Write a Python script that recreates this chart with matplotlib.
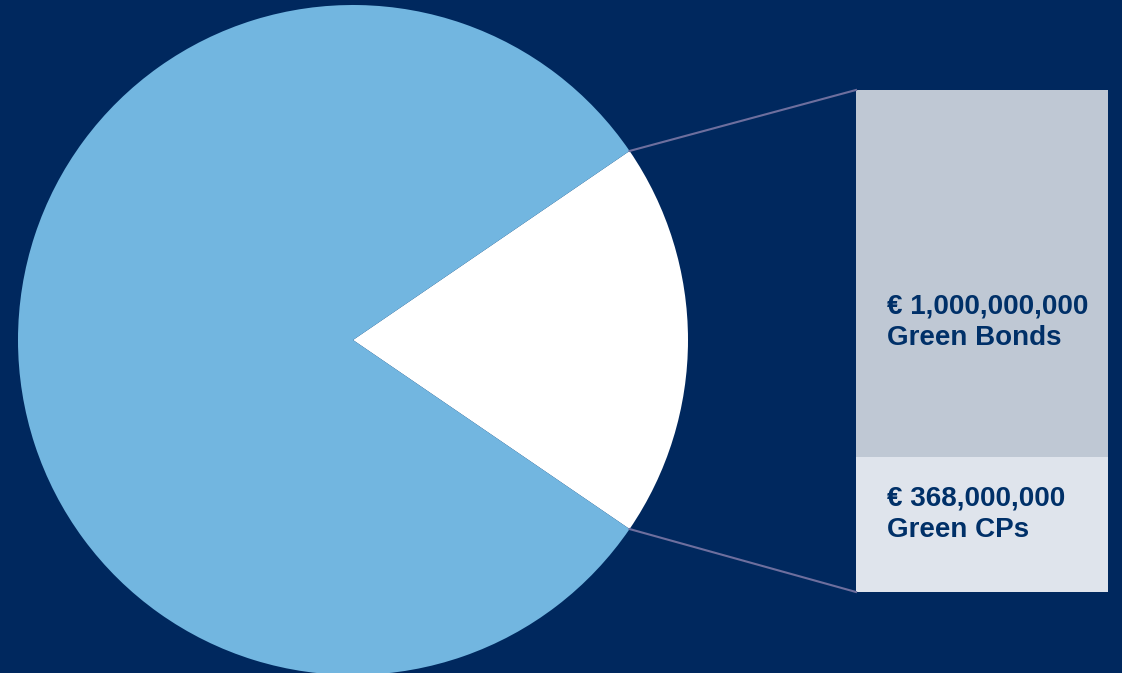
import numpy as np
import matplotlib.pyplot as plt

# data
pie_labels = ["Other", "Green"]
pie_values = [5800000000, 1368000000]
bar_labels = ["Green Bonds", "Green CPs"]
bar_values = [1000000000, 368000000]

bg = "#00285e"
txt = "#003068"

fig = plt.figure(figsize=(11.22, 6.73), dpi=100, facecolor=bg)
ax = fig.add_axes([0, 0, 1, 1])
ax.set_aspect("equal")
ax.set_facecolor(bg)

cx, cy, r = 353, 340, 335
theta = 360 * pie_values[1] / sum(pie_values)
# white slice centred on the right side (angle 0)
ax.pie(pie_values[::-1], colors=["white", "#72b6e0"], center=(cx, cy), radius=r,
       startangle=-theta / 2, counterclock=True, frame=True,
       wedgeprops=dict(linewidth=0))
ax.set_xlim(0, 1122)
ax.set_ylim(673, 0)
ax.axis("off")

# stacked bar on the right
bx, bw = 856, 252
btop, bbot = 90, 592
scale = (bbot - btop) / sum(bar_values)
cols = ["#bfc8d4", "#dfe4ec"]
y0 = btop
for v, c in zip(bar_values, cols):
    h = v * scale
    ax.bar(bx, h, width=bw, bottom=y0, align="edge", color=c, linewidth=0)
    y0 += h

# connector lines from wedge edges to bar corners
a = np.radians(theta / 2)
ax.plot([cx + r * np.cos(a), bx], [cy - r * np.sin(a), btop], color="#6e6f9e", lw=1.5)
ax.plot([cx + r * np.cos(a), bx], [cy + r * np.sin(a), bbot], color="#6e6f9e", lw=1.5)

text_y = [322, 514]
for lab, v, ty in zip(bar_labels, bar_values, text_y):
    ax.text(887, ty, "€ {:,}\n{}".format(v, lab), color=txt, fontsize=20,
            fontweight="bold", family="Liberation Sans", va="center", ha="left",
            linespacing=1.3)

fig.savefig("out.png", facecolor=bg)
